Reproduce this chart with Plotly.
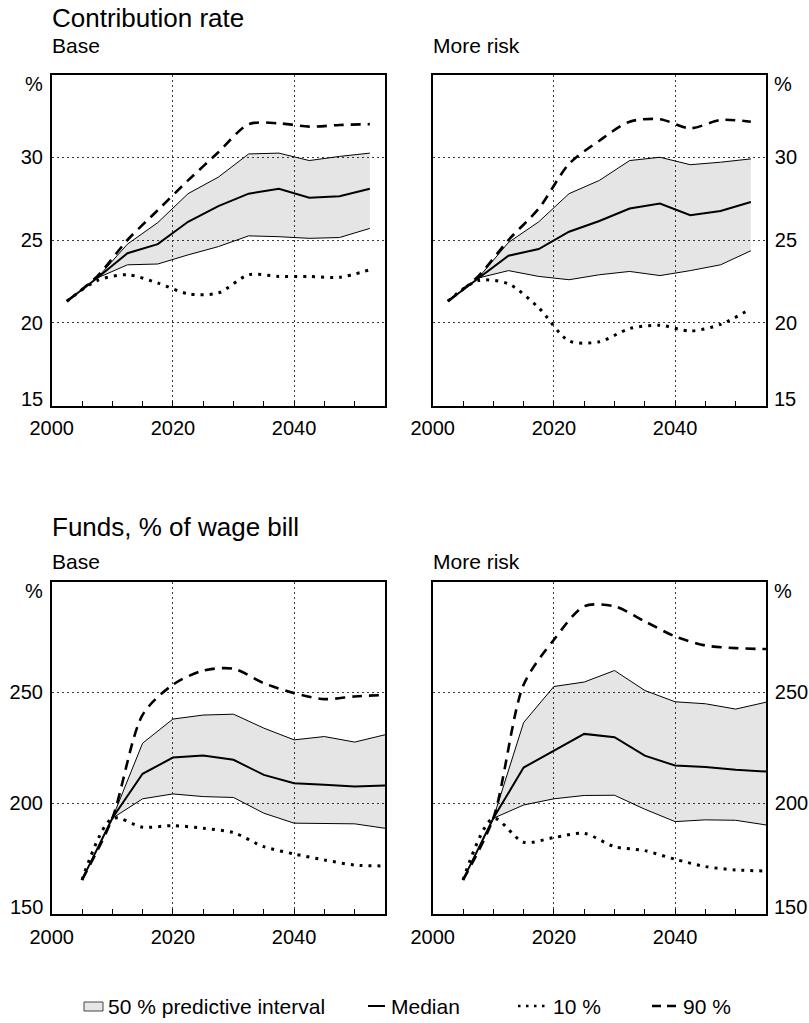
import plotly.graph_objects as go

W, H = 809, 1023
FONT = "Liberation Sans, Arial, Helvetica, sans-serif"

# ---- data -------------------------------------------------------------
years_cr = [2002.5, 2007.5, 2012.5, 2017.5, 2022.5, 2027.5, 2032.5, 2037.5, 2042.5, 2047.5, 2052.5]
years_fund = [2005, 2010, 2015, 2020, 2025, 2030, 2035, 2040, 2045, 2050, 2055]

# Contribution rate, base scenario (%)
cr_base_median = [21.3, 22.7, 24.2, 24.75, 26.1, 27.05, 27.8, 28.1, 27.55, 27.65, 28.1]
cr_base_q25 = [22.7, 23.5, 23.55, 24.1, 24.6, 25.25, 25.2, 25.1, 25.15, 25.7]
cr_base_q75 = [22.7, 24.75, 26.05, 27.8, 28.8, 30.2, 30.25, 29.8, 30.05, 30.25]
cr_base_p10 = [21.3, 22.55, 22.9, 22.4, 21.75, 21.8, 22.9, 22.8, 22.8, 22.75, 23.2]
cr_base_p90 = [21.3, 22.8, 25.0, 26.8, 28.6, 30.3, 32.0, 32.05, 31.85, 31.95, 32.0]

# Contribution rate, more risk (%)
cr_risk_median = [21.3, 22.7, 24.05, 24.45, 25.5, 26.15, 26.9, 27.2, 26.5, 26.75, 27.3]
cr_risk_q25 = [22.7, 23.15, 22.8, 22.6, 22.9, 23.1, 22.85, 23.15, 23.5, 24.35]
cr_risk_q75 = [22.7, 24.85, 26.1, 27.8, 28.6, 29.8, 30.0, 29.55, 29.7, 29.9]
cr_risk_p10 = [21.3, 22.55, 22.35, 20.9, 18.9, 18.85, 19.65, 19.85, 19.5, 19.9, 20.85]
cr_risk_p90 = [21.3, 22.8, 25.0, 26.9, 29.6, 31.0, 32.15, 32.3, 31.75, 32.25, 32.15]

# Funds as % of wage bill, base scenario
fund_base_median = [165.4, 193.2, 213.3, 220.6, 221.5, 219.6, 212.8, 209.0, 208.3, 207.5, 208.0]
fund_base_q25 = [193.2, 202.0, 204.2, 203.0, 202.6, 195.5, 191.0, 190.7, 190.7, 188.7]
fund_base_q75 = [193.2, 227.1, 238.0, 239.8, 240.2, 233.9, 228.6, 230.1, 227.6, 230.9]
fund_base_p10 = [165.4, 193.2, 189.2, 189.9, 188.7, 186.7, 180.4, 177.1, 174.4, 172.1, 171.7]
fund_base_p90 = [165.4, 193.2, 239.9, 253.5, 259.9, 260.7, 254.2, 249.7, 247.0, 248.2, 248.9]

# Funds as % of wage bill, more risk
fund_risk_median = [165.4, 193.2, 216.1, 223.8, 231.3, 229.8, 221.5, 217.0, 216.3, 215.1, 214.3]
fund_risk_q25 = [193.2, 199.2, 202.0, 203.5, 203.6, 197.3, 191.7, 192.5, 192.3, 190.2]
fund_risk_q75 = [193.2, 236.4, 252.7, 254.7, 259.9, 250.9, 245.8, 244.9, 242.5, 245.6]
fund_risk_p10 = [165.4, 193.2, 182.4, 184.5, 186.4, 180.4, 178.6, 174.7, 171.4, 169.9, 169.4]
fund_risk_p90 = [165.4, 193.2, 253.5, 273.8, 288.9, 288.9, 282.1, 275.3, 271.2, 270.0, 269.6]

cr_ticks = [20, 25, 30]
fund_ticks = [200, 250]
x_ticks = [2000, 2020, 2040]

# ---- geometry (pixels) -----------------------------------------------
def px_x(v):
    return v / W

def px_y(v):
    return 1 - v / H

LEFT_X = (51.7, 385.0)
RIGHT_X = (432.7, 766.0)
TOP_Y = (74.5, 405.5)
BOT_Y = (581.7, 914.0)

panels = [
    dict(n=1, xd=LEFT_X, yd=TOP_Y, side="left", x=years_cr, band_x=years_cr[1:],
         med=cr_base_median, lo=cr_base_q25, hi=cr_base_q75, p10=cr_base_p10, p90=cr_base_p90,
         yr=[15, 35], yt=cr_ticks, ymin_lbl="15"),
    dict(n=2, xd=RIGHT_X, yd=TOP_Y, side="right", x=years_cr, band_x=years_cr[1:],
         med=cr_risk_median, lo=cr_risk_q25, hi=cr_risk_q75, p10=cr_risk_p10, p90=cr_risk_p90,
         yr=[15, 35], yt=cr_ticks, ymin_lbl="15"),
    dict(n=3, xd=LEFT_X, yd=BOT_Y, side="left", x=years_fund, band_x=years_fund[1:],
         med=fund_base_median, lo=fund_base_q25, hi=fund_base_q75, p10=fund_base_p10, p90=fund_base_p90,
         yr=[150, 300], yt=fund_ticks, ymin_lbl="150"),
    dict(n=4, xd=RIGHT_X, yd=BOT_Y, side="right", x=years_fund, band_x=years_fund[1:],
         med=fund_risk_median, lo=fund_risk_q25, hi=fund_risk_q75, p10=fund_risk_p10, p90=fund_risk_p90,
         yr=[150, 300], yt=fund_ticks, ymin_lbl="150"),
]

fig = go.Figure()
layout = {}
annotations = []
shapes = []

GRID = dict(showgrid=True, gridcolor="#3a3a3a", gridwidth=1, griddash="2px,3px")

for p in panels:
    sfx = "" if p["n"] == 1 else str(p["n"])
    xa, ya = "x" + sfx, "y" + sfx
    # predictive interval band
    fig.add_trace(go.Scatter(x=p["band_x"], y=p["lo"], xaxis=xa, yaxis=ya, mode="lines",
                             line=dict(color="black", width=1), showlegend=False, hoverinfo="skip"))
    fig.add_trace(go.Scatter(x=p["band_x"], y=p["hi"], xaxis=xa, yaxis=ya, mode="lines",
                             fill="tonexty", fillcolor="rgba(0,0,0,0.1)",
                             line=dict(color="black", width=1), showlegend=False, hoverinfo="skip"))
    # percentiles
    fig.add_trace(go.Scatter(x=p["x"], y=p["p10"], xaxis=xa, yaxis=ya, mode="lines",
                             line=dict(color="black", width=3, dash="3px,6px", shape="spline", smoothing=0.8),
                             showlegend=False, hoverinfo="skip"))
    fig.add_trace(go.Scatter(x=p["x"], y=p["p90"], xaxis=xa, yaxis=ya, mode="lines",
                             line=dict(color="black", width=2.6, dash="10px,7px", shape="spline", smoothing=0.8),
                             showlegend=False, hoverinfo="skip"))
    # median
    fig.add_trace(go.Scatter(x=p["x"], y=p["med"], xaxis=xa, yaxis=ya, mode="lines",
                             line=dict(color="black", width=2), showlegend=False, hoverinfo="skip"))

    layout["xaxis" + sfx] = dict(
        domain=[px_x(p["xd"][0]), px_x(p["xd"][1])], anchor=ya, range=[2000, 2055],
        tickvals=x_ticks, ticks="inside", ticklen=5, tickcolor="black", tickwidth=1,
        minor=dict(dtick=5, tick0=2000, ticks="inside", ticklen=5, tickcolor="black", tickwidth=1, showgrid=False),
        showline=True, linecolor="black", linewidth=1.6, mirror=True, zeroline=False, automargin=False,
        tickfont=dict(size=20, color="black", family=FONT), ticklabelstandoff=4, **GRID)
    layout["yaxis" + sfx] = dict(
        domain=[px_y(p["yd"][1]), px_y(p["yd"][0])], anchor=xa, range=p["yr"],
        tickvals=p["yt"], ticks="", side=p["side"],
        showline=True, linecolor="black", linewidth=1.6, mirror=True, zeroline=False, automargin=False,
        tickfont=dict(size=20, color="black", family=FONT), ticklabelstandoff=3, **GRID)

    # unit label at the top and the lowest value at the bottom of the y axis
    if p["side"] == "left":
        ax, xanchor = p["xd"][0] - 7, "right"
    else:
        ax, xanchor = p["xd"][1] + 6, "left"
    annotations.append(dict(text="%", x=px_x(ax), y=px_y(p["yd"][0] + 9), xref="paper", yref="paper",
                            xanchor=xanchor, yanchor="middle", showarrow=False,
                            font=dict(size=20, family=FONT, color="black")))
    annotations.append(dict(text=p["ymin_lbl"], x=px_x(ax), y=px_y(p["yd"][1] - 7), xref="paper", yref="paper",
                            xanchor=xanchor, yanchor="middle", showarrow=False,
                            font=dict(size=20, family=FONT, color="black")))

# titles
def text_at(t, x, y, size):
    annotations.append(dict(text=t, x=px_x(x), y=px_y(y), xref="paper", yref="paper",
                            xanchor="left", yanchor="middle", showarrow=False,
                            font=dict(size=size, family=FONT, color="black")))

text_at("Contribution rate", 50, 18, 26)
text_at("Base", 50, 45.5, 21)
text_at("More risk", 431, 45.5, 21)
text_at("Funds, % of wage bill", 50, 527, 26)
text_at("Base", 50, 561.5, 21)
text_at("More risk", 431, 561.5, 21)

# key
LY = 1006
shapes.append(dict(type="rect", xref="paper", yref="paper", x0=px_x(84), x1=px_x(103),
                   y0=px_y(1011), y1=px_y(1002), fillcolor="#e6e6e6", line=dict(color="#444", width=1)))
text_at("50 % predictive interval", 106, LY, 21)
shapes.append(dict(type="line", xref="paper", yref="paper", x0=px_x(368), x1=px_x(385),
                   y0=px_y(LY), y1=px_y(LY), line=dict(color="black", width=2)))
text_at("Median", 389, LY, 21)
shapes.append(dict(type="line", xref="paper", yref="paper", x0=px_x(518), x1=px_x(549),
                   y0=px_y(LY), y1=px_y(LY), line=dict(color="black", width=2.5, dash="2.5px,5.5px")))
text_at("10 %", 551, LY, 21)
shapes.append(dict(type="line", xref="paper", yref="paper", x0=px_x(652), x1=px_x(677),
                   y0=px_y(LY), y1=px_y(LY), line=dict(color="black", width=2.6, dash="9px,6px")))
text_at("90 %", 681, LY, 21)

fig.update_layout(
    width=W, height=H, autosize=False, template="none",
    margin=dict(l=0, r=0, t=0, b=0, pad=0),
    paper_bgcolor="white", plot_bgcolor="white",
    font=dict(family=FONT, color="black"),
    showlegend=False,
    annotations=annotations, shapes=shapes,
    **layout,
)

fig.write_html("out.html")
